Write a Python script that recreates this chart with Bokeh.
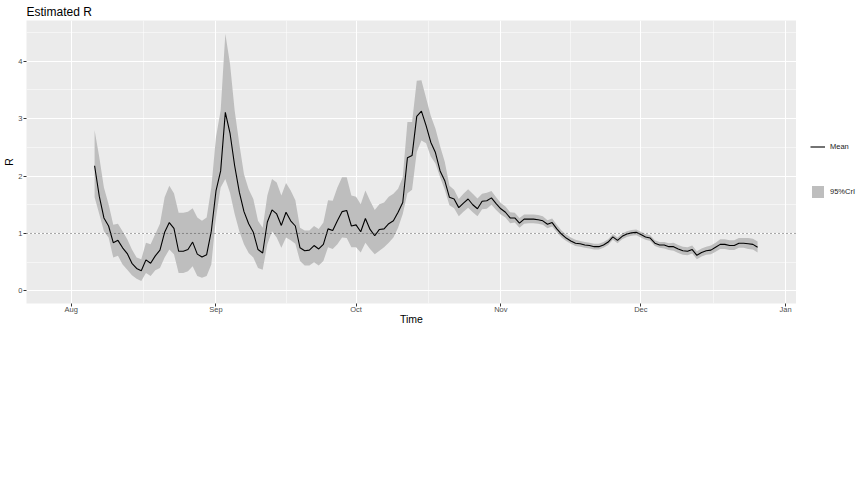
import pandas as pd
from bokeh.plotting import figure
from bokeh.layouts import row
from bokeh.models import (FixedTicker, DatetimeTickFormatter, Span, Legend, LegendItem,
                          ColumnDataSource, Range1d)
from bokeh.embed import file_html
from bokeh.resources import INLINE

# ---- data ----
start_date = "2020-08-06"

mean_r = [
    # Aug 6-31
    2.18, 1.65, 1.27, 1.13, 0.84, 0.88, 0.75, 0.65, 0.48, 0.39, 0.35, 0.54, 0.48, 0.61, 0.71, 1.02,
    1.19, 1.09, 0.69, 0.69, 0.72, 0.85, 0.64, 0.59, 0.63, 1.04,
    # Sep
    1.74, 2.09, 3.11, 2.75, 2.18, 1.72, 1.38, 1.17, 1.02, 0.72, 0.66, 1.20, 1.41, 1.34, 1.14, 1.37,
    1.22, 1.13, 0.75, 0.70, 0.71, 0.79, 0.73, 0.81, 1.08, 1.05, 1.22, 1.38, 1.40, 1.13,
    # Oct
    1.15, 1.03, 1.26, 1.07, 0.96, 1.07, 1.08, 1.17, 1.22, 1.37, 1.54, 2.32, 2.36, 3.04, 3.13, 2.88,
    2.59, 2.41, 2.09, 1.92, 1.63, 1.60, 1.45, 1.53, 1.60, 1.50, 1.43, 1.56, 1.57, 1.62, 1.52,
    # Nov
    1.43, 1.37, 1.27, 1.27, 1.18, 1.25, 1.25, 1.25, 1.24, 1.22, 1.16, 1.19, 1.08, 0.99, 0.92, 0.87,
    0.83, 0.82, 0.80, 0.79, 0.77, 0.77, 0.80, 0.85, 0.94, 0.88, 0.95, 0.99, 1.01, 1.02,
    # Dec 1-26
    0.98, 0.94, 0.92, 0.83, 0.80, 0.80, 0.77, 0.77, 0.73, 0.70, 0.69, 0.72, 0.62, 0.67, 0.70, 0.71,
    0.76, 0.81, 0.81, 0.79, 0.79, 0.83, 0.83, 0.82, 0.81, 0.76,
]

upper_r = [
    2.80, 2.33, 1.80, 1.51, 1.15, 1.17, 1.04, 0.90, 0.72, 0.58, 0.55, 0.84, 0.81, 0.99, 1.17, 1.63,
    1.83, 1.70, 1.36, 1.36, 1.38, 1.44, 1.28, 1.22, 1.28, 1.80,
    2.68, 3.14, 4.48, 3.96, 3.14, 2.56, 2.03, 1.77, 1.60, 1.22, 1.10, 1.66, 1.95, 1.89, 1.66, 1.88,
    1.75, 1.58, 1.10, 1.05, 1.05, 1.13, 1.08, 1.19, 1.58, 1.57, 1.80, 1.98, 1.98, 1.66,
    1.64, 1.51, 1.75, 1.57, 1.41, 1.51, 1.54, 1.64, 1.69, 1.78, 1.98, 2.94, 2.94, 3.66, 3.67, 3.36,
    3.05, 2.83, 2.52, 2.25, 1.83, 1.76, 1.60, 1.69, 1.77, 1.69, 1.61, 1.69, 1.71, 1.74, 1.63,
    1.53, 1.47, 1.37, 1.36, 1.27, 1.33, 1.33, 1.33, 1.32, 1.30, 1.23, 1.26, 1.15, 1.05, 0.98, 0.93,
    0.89, 0.87, 0.85, 0.84, 0.82, 0.82, 0.85, 0.90, 0.99, 0.93, 1.00, 1.04, 1.06, 1.07,
    1.03, 0.99, 0.97, 0.88, 0.85, 0.85, 0.83, 0.84, 0.80, 0.77, 0.76, 0.79, 0.69, 0.74, 0.77, 0.79,
    0.84, 0.90, 0.90, 0.88, 0.88, 0.92, 0.92, 0.92, 0.91, 0.86,
]

lower_r = [
    1.63, 1.34, 1.04, 0.93, 0.58, 0.61, 0.46, 0.37, 0.27, 0.21, 0.17, 0.31, 0.26, 0.36, 0.40, 0.58,
    0.72, 0.64, 0.31, 0.31, 0.34, 0.43, 0.26, 0.23, 0.26, 0.46,
    1.28, 1.80, 1.95, 1.71, 1.34, 1.04, 0.81, 0.66, 0.58, 0.40, 0.37, 0.81, 1.04, 0.93, 0.75, 0.93,
    0.88, 0.82, 0.52, 0.44, 0.44, 0.50, 0.44, 0.52, 0.76, 0.73, 0.81, 0.93, 0.92, 0.76,
    0.76, 0.67, 0.84, 0.73, 0.64, 0.70, 0.76, 0.84, 0.93, 1.10, 1.34, 1.70, 1.76, 2.42, 2.62, 2.57,
    2.34, 2.22, 1.98, 1.76, 1.49, 1.44, 1.30, 1.38, 1.45, 1.37, 1.30, 1.42, 1.43, 1.50, 1.41,
    1.33, 1.28, 1.18, 1.19, 1.10, 1.17, 1.18, 1.18, 1.17, 1.15, 1.09, 1.12, 1.02, 0.93, 0.87, 0.82,
    0.78, 0.77, 0.75, 0.74, 0.72, 0.72, 0.75, 0.80, 0.89, 0.83, 0.90, 0.94, 0.96, 0.97,
    0.93, 0.89, 0.87, 0.78, 0.75, 0.74, 0.71, 0.70, 0.66, 0.63, 0.62, 0.65, 0.55, 0.60, 0.63, 0.64,
    0.68, 0.73, 0.73, 0.71, 0.71, 0.75, 0.75, 0.73, 0.72, 0.67,
]

month_ticks = ["2020-08-01", "2020-09-01", "2020-10-01", "2020-11-01", "2020-12-01", "2021-01-01"]
month_minor = ["2020-08-16 12:00", "2020-09-16", "2020-10-16 12:00", "2020-11-16", "2020-12-16 12:00"]
r_ticks = [0, 1, 2, 3, 4]
r_minor = [0.5, 1.5, 2.5, 3.5, 4.5]
threshold = 1.0

x_start, x_end = "2020-07-22 10:00", "2021-01-03 08:00"
y_start, y_end = -0.22, 4.71


def ms(s):
    return pd.Timestamp(s).value // 10**6


dates = pd.date_range(start_date, periods=len(mean_r), freq="D")
src = ColumnDataSource(dict(date=dates, mean=mean_r, upper=upper_r, lower=lower_r))

FONT = "Liberation Sans"
BAND = "#BEBEBE"

p = figure(frame_width=770, frame_height=283, x_axis_type="datetime",
           output_backend="svg", toolbar_location=None,
           x_range=Range1d(start=ms(x_start), end=ms(x_end)),
           y_range=Range1d(start=y_start, end=y_end),
           min_border_left=0, min_border_right=0, min_border_top=0, min_border_bottom=0,
           background_fill_color="#EBEBEB", border_fill_color="white",
           outline_line_color=None, title="Estimated R")

p.title.text_font = FONT
p.title.text_font_size = "12px"
p.title.text_font_style = "normal"
p.title.text_color = "black"
p.title.standoff = 4

xt = FixedTicker(ticks=[ms(t) for t in month_ticks], minor_ticks=[ms(t) for t in month_minor])
yt = FixedTicker(ticks=r_ticks, minor_ticks=r_minor)
p.xaxis.ticker = xt
p.yaxis.ticker = yt
p.xgrid.ticker = xt
p.ygrid.ticker = yt
p.xaxis.formatter = DatetimeTickFormatter(
    milliseconds="%b", seconds="%b", minsec="%b", minutes="%b", hourmin="%b", hours="%b",
    days="%b", months="%b", years="%b")

for ax in (p.xaxis, p.yaxis):
    ax.axis_line_color = None
    ax.major_tick_line_color = "#333333"
    ax.major_tick_out = 3
    ax.major_tick_in = 0
    ax.minor_tick_out = 0
    ax.minor_tick_in = 0
    ax.major_label_text_font = FONT
    ax.major_label_text_font_size = "7.5px"
    ax.major_label_text_color = "#4D4D4D"
    ax.major_label_standoff = 1
    ax.axis_label_text_font = FONT
    ax.axis_label_text_font_size = "10.5px"
    ax.axis_label_text_font_style = "normal"
    ax.axis_label_text_color = "black"
    ax.axis_label_standoff = 0

p.xaxis.major_label_standoff = -2
p.xaxis.axis_label_standoff = -4
p.xaxis.axis_label = "Time"
p.yaxis.axis_label = "R"

for g in (p.xgrid, p.ygrid):
    g.grid_line_color = "white"
    g.grid_line_width = 1.1
    g.minor_grid_line_color = "white"
    g.minor_grid_line_width = 0.5

p.varea(x="date", y1="lower", y2="upper", source=src, fill_color=BAND)
p.add_layout(Span(location=threshold, dimension="width", line_color="#4D4D4D",
                  line_dash="1 3", line_width=1))
p.line(x="date", y="mean", source=src, line_color="black", line_width=1.1)

# ---- legend panel (separate small plot to the right of the panel) ----
lf = figure(width=66, height=300, output_backend="svg", toolbar_location=None,
            x_range=Range1d(0, 1), y_range=Range1d(0, 1),
            x_axis_location=None, y_axis_location=None,
            min_border_left=0, min_border_right=0, min_border_top=0, min_border_bottom=0,
            outline_line_color=None, background_fill_color="white", border_fill_color="white")
lf.grid.visible = False
key_bg = lf.quad(left=[], right=[], top=[], bottom=[], fill_color="#F2F2F2", line_color=None)
l_line = lf.line(x="date", y="mean", source=src, line_color="black", line_width=1.1)
l_band = lf.varea(x="date", y1="lower", y2="upper", source=src, fill_color=BAND)

legend = Legend(items=[LegendItem(label="Mean", renderers=[key_bg, l_line]),
                       LegendItem(label="95%CrI", renderers=[l_band])],
                location=(14, 77), glyph_width=15, glyph_height=15, label_height=15,
                spacing=30, padding=5, margin=0, label_standoff=5,
                label_text_font=FONT, label_text_font_size="7.5px", label_text_color="#1A1A1A",
                border_line_color=None, background_fill_alpha=0)
lf.add_layout(legend)

layout = row(p, lf, spacing=0)
open("out.html", "w").write(file_html(layout, INLINE))
